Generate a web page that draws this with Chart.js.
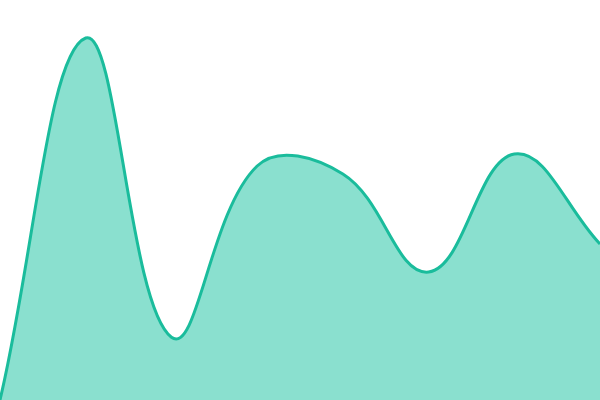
<!DOCTYPE html>
<html>
<head>
<meta charset="utf-8">
<script src="https://cdn.jsdelivr.net/npm/chart.js@4"></script>
<style>
  html, body { margin: 0; padding: 0; background: #fff; }
  #wrap { width: 600px; height: 400px; }
</style>
</head>
<body>
<div id="wrap"><canvas id="chart"></canvas></div>
<script>
// values (y scale 0..100)
const labels = ["1", "2", "3", "4", "5", "6", "7", "8"];
const values = [0, 90.5, 15.7, 58.5, 56.5, 32, 61.5, 39];

const ctx = document.getElementById("chart");
const chart = new Chart(ctx, {
    type: "line",
    data: {
        labels: labels,
        datasets: [{
            data: values,
            borderColor: "#1abc9c",
            backgroundColor: "#8ae0cf",
            borderWidth: 3,
            fill: true,
            tension: 0.4,
            pointRadius: 0
        }]
    },
    options: {
        responsive: true,
        maintainAspectRatio: false,
        animation: false,
        layout: { padding: 0 },
        plugins: {
            legend: { display: false },
            tooltip: { enabled: false }
        },
        scales: {
            x: { display: false },
            y: { display: false, min: 0, max: 100 }
        }
    }
});
</script>
</body>
</html>
